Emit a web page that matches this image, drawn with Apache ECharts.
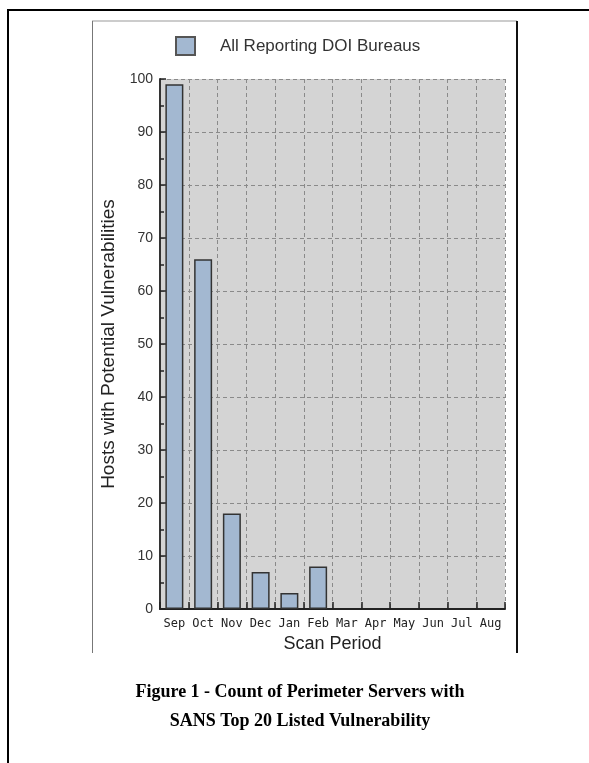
<!DOCTYPE html>
<html>
<head>
<meta charset="utf-8">
<style>
  html, body { margin: 0; padding: 0; background: #ffffff; }
  #chart { width: 589px; height: 763px; }
</style>
<script src="https://cdn.jsdelivr.net/npm/echarts@6/dist/echarts.min.js"></script>
</head>
<body>
<div id="chart"></div>
<script>
// ---- data ----
const categories = ['Sep', 'Oct', 'Nov', 'Dec', 'Jan', 'Feb', 'Mar', 'Apr', 'May', 'Jun', 'Jul', 'Aug'];
const seriesName = 'All Reporting DOI Bureaus';
const hostValues = [99, 66, 18, 7, 3, 8, null, null, null, null, null, null];
const yTicks = { min: 0, max: 100, interval: 10 };
const captionLines = ['Figure 1 - Count of Perimeter Servers with', 'SANS Top 20 Listed Vulnerability'];

const chart = echarts.init(document.getElementById('chart'), null, { renderer: 'canvas' });

const option = {
  backgroundColor: '#ffffff',
  animation: false,
  legend: {
    left: 175,
    top: 36,
    padding: 0,
    itemWidth: 19,
    itemHeight: 18,
    icon: 'rect',
    data: [seriesName],
    textStyle: {
      fontFamily: 'Liberation Sans, Arial, sans-serif',
      fontSize: 17,
      color: '#333333',
      padding: [0, 0, 0, 20]
    },
    itemStyle: { borderColor: '#555555', borderWidth: 2 }
  },
  grid: {
    left: 160,
    right: 84,
    top: 79,
    bottom: 154,
    show: true,
    backgroundColor: '#d4d4d4',
    borderWidth: 0
  },
  xAxis: {
    type: 'category',
    data: categories,
    boundaryGap: true,
    name: 'Scan Period',
    nameLocation: 'middle',
    nameGap: 20,
    nameTextStyle: {
      fontFamily: 'Liberation Sans, Arial, sans-serif',
      fontSize: 18,
      color: '#222222'
    },
    axisLine: { show: true, lineStyle: { color: '#222222', width: 2 } },
    axisTick: { show: true, inside: true, length: 7, lineStyle: { color: '#222222', width: 1.5 } },
    axisLabel: {
      fontFamily: 'DejaVu Sans Mono, monospace',
      fontSize: 12,
      color: '#222222',
      margin: 9,
      interval: 0
    },
    splitLine: {
      show: true,
      lineStyle: { color: '#8a8a8a', type: [4, 3], width: 1 }
    }
  },
  yAxis: {
    type: 'value',
    min: yTicks.min,
    max: yTicks.max,
    interval: yTicks.interval,
    name: 'Hosts with Potential Vulnerabilities',
    nameLocation: 'middle',
    nameGap: 31,
    nameRotate: 90,
    nameTextStyle: {
      fontFamily: 'Liberation Sans, Arial, sans-serif',
      fontSize: 19,
      color: '#222222'
    },
    axisLine: { show: true, lineStyle: { color: '#333333', width: 2 } },
    axisTick: { show: true, inside: true, length: 6, lineStyle: { color: '#222222', width: 1.5 } },
    minorTick: { show: true, splitNumber: 2, length: 4, lineStyle: { color: '#222222', width: 1.5 } },
    axisLabel: {
      fontFamily: 'Liberation Sans, Arial, sans-serif',
      fontSize: 14,
      color: '#333333',
      margin: 7
    },
    splitLine: {
      show: true,
      lineStyle: { color: '#8a8a8a', type: [4, 3], width: 1 }
    }
  },
  series: [{
    name: seriesName,
    type: 'bar',
    data: hostValues,
    barWidth: 18,
    itemStyle: {
      color: '#a3b8d1',
      borderColor: '#333333',
      borderWidth: 1.5
    }
  }],
  title: [
    {
      text: captionLines.join('\n'),
      left: 295,
      textAlign: 'center',
      top: 673,
      textStyle: {
        fontFamily: 'Liberation Serif, Times New Roman, serif',
        fontWeight: 'bold',
        fontSize: 18,
        lineHeight: 29,
        color: '#000000'
      }
    }
  ],
  graphic: [
    // outer document frame
    { type: 'line', shape: { x1: 8, y1: 10, x2: 589, y2: 10 }, style: { stroke: '#000000', lineWidth: 2 } },
    { type: 'line', shape: { x1: 8, y1: 9, x2: 8, y2: 763 }, style: { stroke: '#000000', lineWidth: 2 } },
    // chart image frame
    { type: 'line', shape: { x1: 92, y1: 21, x2: 517, y2: 21 }, style: { stroke: '#999999', lineWidth: 1 } },
    { type: 'line', shape: { x1: 92.5, y1: 21, x2: 92.5, y2: 653 }, style: { stroke: '#777777', lineWidth: 1 } },
    { type: 'line', shape: { x1: 517, y1: 21, x2: 517, y2: 653 }, style: { stroke: '#111111', lineWidth: 2 } }
  ]
};

chart.setOption(option);
</script>
</body>
</html>
